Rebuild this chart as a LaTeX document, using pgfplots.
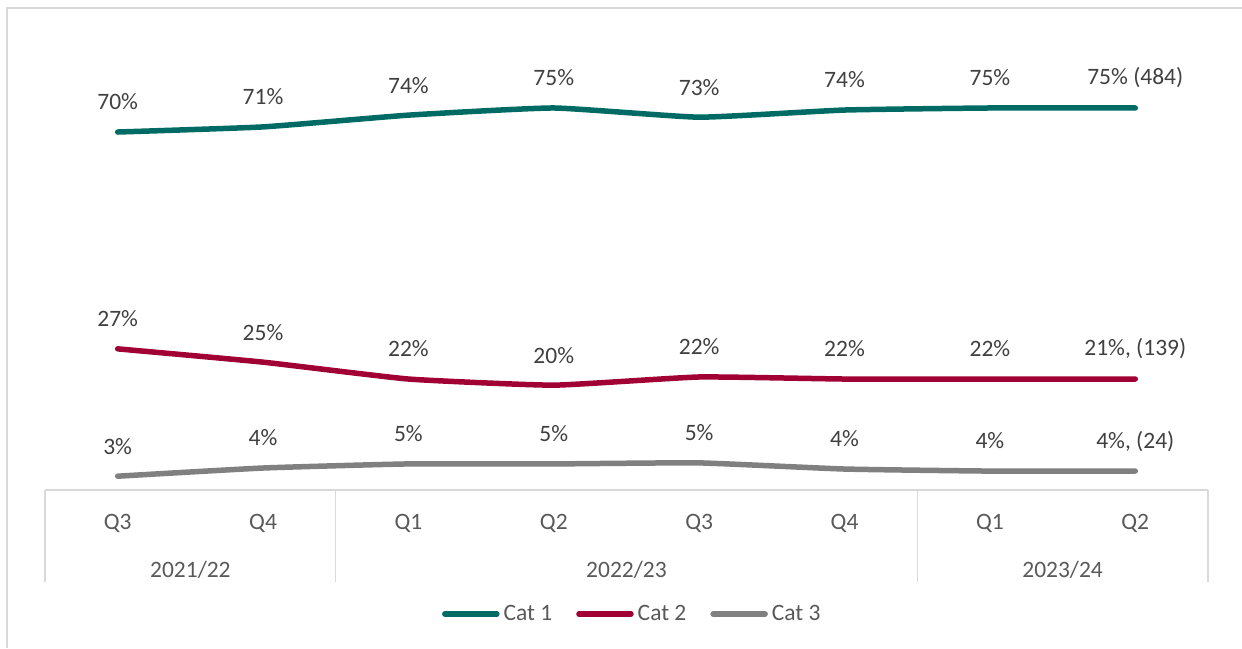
\documentclass[border=0pt]{standalone}
\usepackage{fontspec}
\setmainfont{Carlito}
\usepackage{pgfplots}
\pgfplotsset{compat=1.18}
\definecolor{c1}{HTML}{006B64}
\definecolor{c2}{HTML}{A00034}
\definecolor{c3}{HTML}{808080}
\definecolor{gridc}{HTML}{D9D9D9}
\definecolor{txt}{HTML}{404040}
\definecolor{axtxt}{HTML}{595959}
\begin{document}
\begin{tikzpicture}
\useasboundingbox (0,0) rectangle (1242pt,648pt);
\draw[gridc, line width=1.3pt] (7pt,0pt) -- (7pt,640pt) -- (1242pt,640pt);
\begin{axis}[
  at={(45pt,158pt)}, anchor=south west,
  scale only axis, width=1163pt, height=460.26pt,
  xmin=-0.5, xmax=7.5, ymin=0, ymax=90,
  axis y line=none, axis x line*=bottom,
  x axis line style={gridc, line width=1.3pt, -},
  xtick={0,...,7}, xticklabels={Q3,Q4,Q1,Q2,Q3,Q4,Q1,Q2},
  major tick length=0pt,
  xticklabel style={font=\fontsize{23.5}{28}\selectfont, text=axtxt, anchor=center, yshift=-33pt},
  clip=false,
  point meta=explicit symbolic,
  nodes near coords,
  every node near coord/.append style={font=\fontsize{23.5}{28}\selectfont, text=txt, anchor=center, yshift=30pt},
  legend columns=3,
  legend style={draw=none, fill=none, at={(rel axis cs:0.505,-0.2694)}, anchor=center,
    font=\fontsize{23.5}{28}\selectfont, text=axtxt,
    /tikz/every odd column/.append style={column sep=2pt},
    /tikz/every even column/.append style={column sep=22pt}},
  legend image code/.code={\draw[#1, line width=5.5pt, line cap=round] (0pt,0pt) -- (52pt,0pt);},
  every axis plot/.append style={line width=5.5pt, line cap=round, line join=round, mark=none, smooth, tension=0.25},
]
\addplot[c1] coordinates {
 (0,70.0) [70\%]
 (1,71.0) [71\%]
 (2,73.3) [74\%]
 (3,74.7) [75\%]
 (4,72.9) [73\%]
 (5,74.3) [74\%]
 (6,74.7) [75\%]
 (7,74.7) [75\% (484)]
};
\addlegendentry{Cat 1}
\addplot[c2] coordinates {
 (0,27.6) [27\%]
 (1,25.0) [25\%]
 (2,21.7) [22\%]
 (3,20.5) [20\%]
 (4,22.1) [22\%]
 (5,21.7) [22\%]
 (6,21.7) [22\%]
 (7,21.7) [21\%, (139)]
};
\addlegendentry{Cat 2}
\addplot[c3] coordinates {
 (0,2.7) [3\%]
 (1,4.3) [4\%]
 (2,5.1) [5\%]
 (3,5.1) [5\%]
 (4,5.3) [5\%]
 (5,4.1) [4\%]
 (6,3.7) [4\%]
 (7,3.7) [4\%, (24)]
};
\addlegendentry{Cat 3}
\draw[gridc, line width=1.3pt] (axis cs:-0.5,0) -- ++(0pt,-92pt);
\draw[gridc, line width=1.3pt] (axis cs:1.5,0) -- ++(0pt,-92pt);
\draw[gridc, line width=1.3pt] (axis cs:5.5,0) -- ++(0pt,-92pt);
\draw[gridc, line width=1.3pt] (axis cs:7.5,0) -- ++(0pt,-92pt);
\node[font=\fontsize{23.5}{28}\selectfont, text=axtxt] at ([yshift=-80pt]axis cs:0.5,0) {2021/22};
\node[font=\fontsize{23.5}{28}\selectfont, text=axtxt] at ([yshift=-80pt]axis cs:3.5,0) {2022/23};
\node[font=\fontsize{23.5}{28}\selectfont, text=axtxt] at ([yshift=-80pt]axis cs:6.5,0) {2023/24};
\end{axis}
\end{tikzpicture}
\end{document}
